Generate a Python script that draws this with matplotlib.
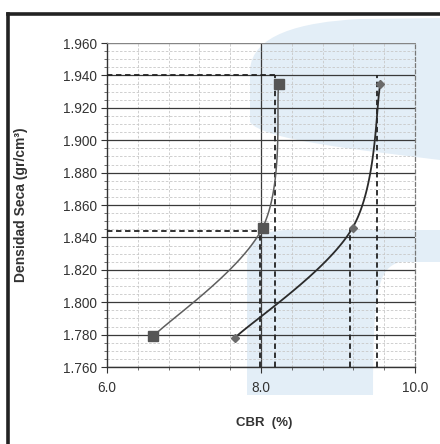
import matplotlib.pyplot as plt
import numpy as np
from matplotlib.path import Path
from matplotlib.patches import PathPatch

# data
cbr_a = [6.60, 8.02, 8.23]
dens_a = [1.779, 1.846, 1.935]
cbr_b = [7.66, 9.19, 9.55]
dens_b = [1.778, 1.846, 1.935]

# dashed reading lines: (x, y_top) vertical and (y, x_end) horizontal
guide_v = [(8.18, 1.940), (7.99, 1.844), (9.15, 1.846), (9.51, 1.940)]
guide_h = [(1.940, 8.18), (1.844, 7.99)]

plt.rcParams['font.family'] = ['Liberation Sans', 'DejaVu Sans']

W, H = 440, 444
fig = plt.figure(figsize=(W / 100, H / 100), dpi=100)


def fx(px):
    return px / W


def fy(py):
    return 1 - py / H


# faint blue watermark of the scanned page
blue = '#e3eef7'
top_shape = Path(
    [(fx(440), fy(160)), (fx(360), fy(150)), (fx(262), fy(140)), (fx(250), fy(122)),
     (fx(250), fy(70)), (fx(252), fy(35)), (fx(300), fy(22)), (fx(360), fy(19)),
     (fx(445), fy(18)), (fx(440), fy(160))],
    [Path.MOVETO, Path.CURVE4, Path.CURVE4, Path.CURVE4,
     Path.LINETO, Path.CURVE4, Path.CURVE4, Path.CURVE4,
     Path.LINETO, Path.CLOSEPOLY])
low_shape = Path(
    [(fx(247), fy(395)), (fx(247), fy(262)), (fx(247), fy(238)), (fx(262), fy(230)), (fx(290), fy(230)),
     (fx(445), fy(230)), (fx(445), fy(262)), (fx(400), fy(262)), (fx(378), fy(268)), (fx(373), fy(290)),
     (fx(373), fy(395)), (fx(247), fy(395))],
    [Path.MOVETO, Path.LINETO, Path.CURVE4, Path.CURVE4, Path.CURVE4,
     Path.LINETO, Path.LINETO, Path.LINETO, Path.CURVE4, Path.CURVE4,
     Path.LINETO, Path.CLOSEPOLY])
for shp in (top_shape, low_shape):
    fig.patches.append(PathPatch(shp, transform=fig.transFigure, facecolor=blue,
                                 edgecolor='none', zorder=0))

# page frame (cut off at right and bottom)
fig.add_artist(plt.Line2D([fx(8), fx(445)], [fy(14), fy(14)], color='#222222', lw=2.6,
                          transform=fig.transFigure))
fig.add_artist(plt.Line2D([fx(8), fx(8)], [fy(14), fy(450)], color='#222222', lw=2.6,
                          transform=fig.transFigure))

ax = fig.add_axes([fx(107), fy(367), fx(415) - fx(107), fy(43) - fy(367)])
ax.set_zorder(2)
ax.set_facecolor('none')
ax.set_xlim(6.0, 10.0)
ax.set_ylim(1.760, 1.960)

ax.set_xticks([6.0, 8.0, 10.0])
ax.set_xticklabels(['6.0', '8.0', '10.0'])
ax.set_xticks(np.arange(6.0, 10.01, 0.4), minor=True)
ax.set_yticks(np.arange(1.760, 1.9601, 0.02))
ax.set_yticklabels([f'{v:.3f}' for v in np.arange(1.760, 1.9601, 0.02)])
ax.set_yticks(np.arange(1.760, 1.9601, 0.005), minor=True)

ax.tick_params(axis='both', which='major', labelsize=9.8, colors='#333333', length=4, width=0.8)
ax.tick_params(axis='both', which='minor', length=2.5, width=0.6, colors='#555555')
ax.tick_params(axis='x', pad=6)

ax.grid(True, which='major', axis='y', color='#3a3a3a', lw=0.9)
ax.grid(True, which='minor', axis='y', color='#c8c8c8', lw=0.6, ls=(0, (3, 2)))
ax.grid(True, which='minor', axis='x', color='#c8c8c8', lw=0.6, ls=(0, (3, 2)))
ax.axvline(8.0, color='#3a3a3a', lw=0.9, zorder=1)

for side in ('left', 'bottom'):
    ax.spines[side].set_color('#333333')
    ax.spines[side].set_linewidth(1.0)
ax.spines['top'].set_color('#888888')
ax.spines['top'].set_linewidth(0.7)
ax.spines['right'].set_color('#777777')
ax.spines['right'].set_linewidth(0.9)
ax.spines['right'].set_linestyle((0, (3, 2)))

# dashed reading lines
for x, ytop in guide_v:
    ax.plot([x, x], [1.760, ytop], color='#222222', lw=1.3, ls=(0, (3, 2)), zorder=3)
for y, xend in guide_h:
    ax.plot([6.0, xend], [y, y], color='#222222', lw=1.3, ls=(0, (3, 2)), zorder=3)


def smooth(xs, ys, n=60):
    # spreadsheet-style smoothed line: Catmull-Rom Bezier in screen space
    pts = ax.transData.transform(np.column_stack([xs, ys]))
    out = []
    for i in range(len(pts) - 1):
        p0 = pts[max(i - 1, 0)]
        p1 = pts[i]
        p2 = pts[i + 1]
        p3 = pts[min(i + 2, len(pts) - 1)]
        c1 = p1 + (p2 - p0) / 6
        c2 = p2 - (p3 - p1) / 6
        t = np.linspace(0, 1, n)[:, None]
        seg = ((1 - t) ** 3) * p1 + 3 * ((1 - t) ** 2) * t * c1 + 3 * (1 - t) * t ** 2 * c2 + t ** 3 * p2
        out.append(seg)
    d = ax.transData.inverted().transform(np.vstack(out))
    return d[:, 0], d[:, 1]


sx, sy = smooth(cbr_a, dens_a)
ax.plot(sx, sy, color='#5e5e5e', lw=1.1, zorder=4)
ax.plot(cbr_a, dens_a, ls='none', marker='s', ms=6.5, color='#555555', zorder=5)

sx, sy = smooth(cbr_b, dens_b)
ax.plot(sx, sy, color='#2a2a2a', lw=1.3, zorder=4)
ax.plot(cbr_b, dens_b, ls='none', marker='D', ms=4.5, color='#6a6a6a', zorder=5)

ax.set_ylabel('Densidad Seca (gr/cm³)', fontsize=10, fontweight='bold', color='#333333')
ax.yaxis.set_label_coords((fx(28) - fx(107)) / (fx(415) - fx(107)), 0.5)
fig.text(fx(264), fy(423), 'CBR  (%)', fontsize=9.5, fontweight='bold', color='#333333',
         ha='center', va='center')

fig.savefig('out.png', dpi=100)
